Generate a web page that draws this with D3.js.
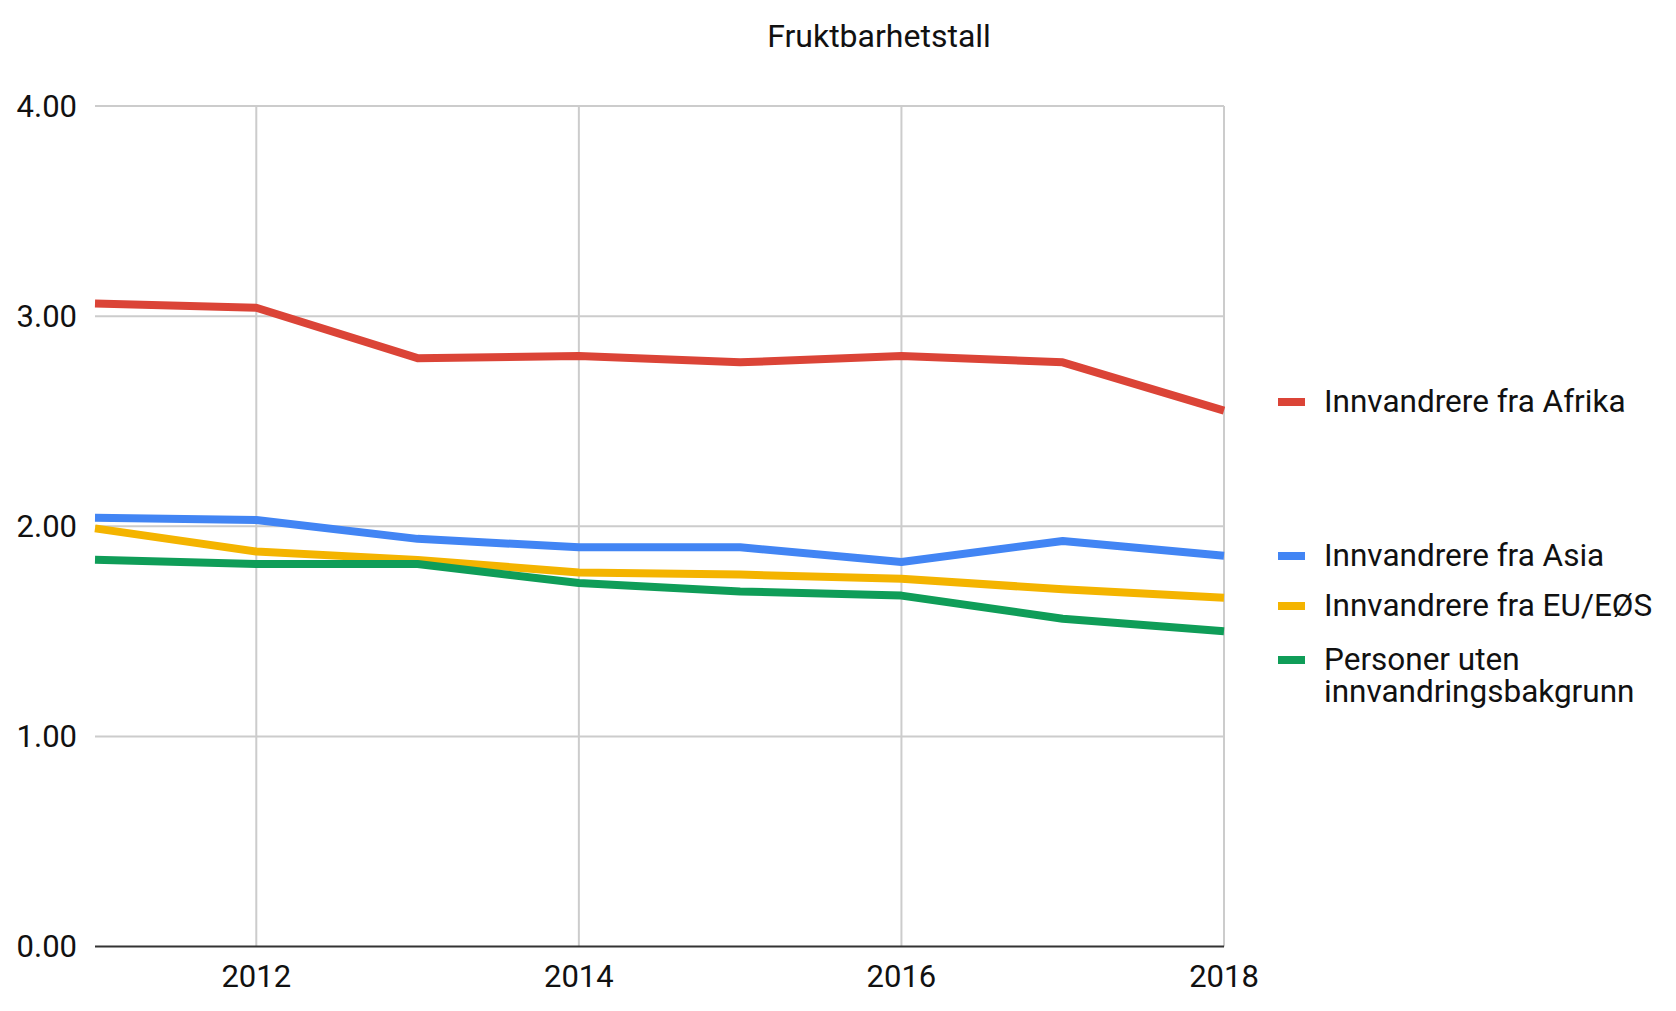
<!DOCTYPE html>
<html>
<head>
<meta charset="utf-8">
<script src="https://cdn.jsdelivr.net/npm/d3@7"></script>
<style>
  body { margin: 0; background: #fff; }
  svg { display: block; font-family: Roboto, "Noto Sans", Arial, sans-serif; }
</style>
</head>
<body>
<svg id="chart" width="1676" height="1011"></svg>
<script>
const title = "Fruktbarhetstall";
const years = [2011, 2012, 2013, 2014, 2015, 2016, 2017, 2018];
const xTicks = [2012, 2014, 2016, 2018];
const yTicks = [0, 1, 2, 3, 4];
const seriesNames = ["Innvandrere fra Afrika", "Innvandrere fra Asia", "Innvandrere fra EU/EØS", "Personer uten innvandringsbakgrunn"];
const legendLines = [["Innvandrere fra Afrika"], ["Innvandrere fra Asia"], ["Innvandrere fra EU/EØS"], ["Personer uten", "innvandringsbakgrunn"]];
const colors = ["#db4437", "#4285f4", "#f4b400", "#0f9d58"];
const afrika = [3.06, 3.04, 2.80, 2.81, 2.78, 2.81, 2.78, 2.55];
const asia = [2.04, 2.03, 1.94, 1.90, 1.90, 1.83, 1.93, 1.86];
const eueos = [1.99, 1.88, 1.84, 1.78, 1.77, 1.75, 1.70, 1.66];
const uten = [1.84, 1.82, 1.82, 1.73, 1.69, 1.67, 1.56, 1.50];
const seriesValues = [afrika, asia, eueos, uten];

(function () {
const svg = d3.select("#chart");
const mL = 95, mR = 1224, mT = 106, mB = 946.5;

const x = d3.scaleLinear().domain([2011, 2018]).range([mL, mR]);
const y = d3.scaleLinear().domain([0, 4]).range([mB, mT]);

// title
svg.append("text").attr("x", 879).attr("y", 47).attr("text-anchor", "middle")
  .attr("font-size", 32).attr("fill", "#111").text(title);

// horizontal gridlines
svg.append("g").selectAll("line").data(yTicks.filter(d => d > 0)).join("line")
  .attr("x1", mL).attr("x2", mR)
  .attr("y1", d => y(d)).attr("y2", d => y(d))
  .attr("stroke", "#cccccc").attr("stroke-width", 2);

// vertical gridlines
svg.append("g").selectAll("line").data(xTicks).join("line")
  .attr("x1", d => x(d)).attr("x2", d => x(d))
  .attr("y1", mT).attr("y2", mB)
  .attr("stroke", "#cccccc").attr("stroke-width", 2);

// baseline
svg.append("line").attr("x1", mL).attr("x2", mR)
  .attr("y1", y(0)).attr("y2", y(0)).attr("stroke", "#333").attr("stroke-width", 2);

// y labels
svg.append("g").selectAll("text").data(yTicks).join("text")
  .attr("x", 77).attr("y", d => y(d)).attr("dy", "0.35em")
  .attr("text-anchor", "end").attr("font-size", 31).attr("fill", "#111")
  .text(d => d3.format(".2f")(d));

// x labels
svg.append("g").selectAll("text").data(xTicks).join("text")
  .attr("x", d => x(d)).attr("y", 987)
  .attr("text-anchor", "middle").attr("font-size", 31).attr("fill", "#111")
  .text(d => d);

// lines
const line = d3.line().x((d, i) => x(years[i])).y(d => y(d));
svg.append("g").selectAll("path").data(seriesValues).join("path")
  .attr("d", d => line(d)).attr("fill", "none")
  .attr("stroke", (d, i) => colors[i]).attr("stroke-width", 8)
  .attr("stroke-linejoin", "round");

// legend
const legendY = [402, 556, 606, 660];
const lg = svg.append("g");
seriesNames.forEach((name, i) => {
  lg.append("rect").attr("x", 1278).attr("y", legendY[i] - 4).attr("width", 27).attr("height", 8)
    .attr("fill", colors[i]);
  legendLines[i].forEach((ln, j) => {
    lg.append("text").attr("x", 1324).attr("y", legendY[i] - 1 + j * 32).attr("dy", "0.35em")
      .attr("font-size", 31.5).attr("fill", "#111").text(ln);
  });
});
})();
</script>
</body>
</html>
